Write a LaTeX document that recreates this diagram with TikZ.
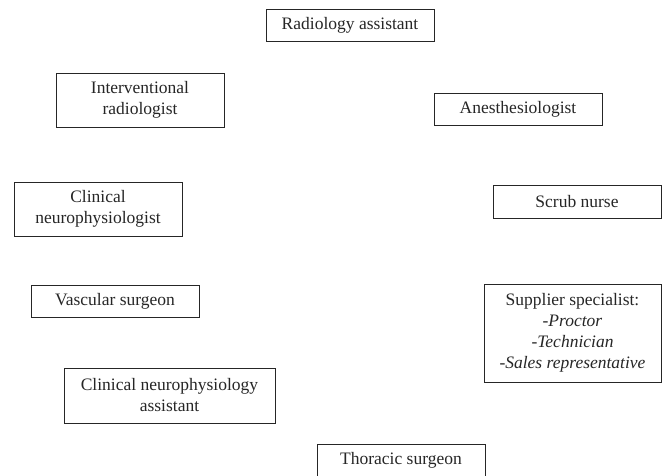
\documentclass[tikz,border=0pt]{standalone}
\usepackage{fontspec}
\setmainfont{Liberation Serif}
\begin{document}
\begin{tikzpicture}[x=1pt,y=-1pt,
  role/.style={draw=black!85, line width=0.8pt, inner sep=0pt, align=center,
    font=\fontsize{17.5}{21}\selectfont, text=black!85}]
\useasboundingbox (0,0) rectangle (662,475);
\node[role, minimum width=168pt, minimum height=32pt] (ra) at (350,25) {Radiology assistant};
\node[role, minimum width=168pt, minimum height=54pt] (ir) at (140,100) {Interventional\\radiologist};
\node[role, minimum width=168pt, minimum height=54pt] (cn) at (98,209) {Clinical\\neurophysiologist};
\node[role, minimum width=168pt, minimum height=32pt] (an) at (518,109) {Anesthesiologist};
\node[role, minimum width=168pt, minimum height=33pt] (sn) at (577,201.5) {Scrub nurse};
\node[role, minimum width=168pt, minimum height=32pt] (vs) at (115,301) {Vascular surgeon};
\node[role, minimum width=211pt, minimum height=55pt] (cna) at (169.5,395.5) {Clinical neurophysiology\\assistant};
\node[role, minimum width=177pt, minimum height=98pt] (ss) at (572.5,333) {Supplier specialist:\\\textit{-Proctor}\\\textit{-Technician}\\\textit{-Sales representative}};
\node[role, minimum width=168pt, minimum height=32pt] (ts) at (401,460) {Thoracic surgeon};
\end{tikzpicture}
\end{document}
